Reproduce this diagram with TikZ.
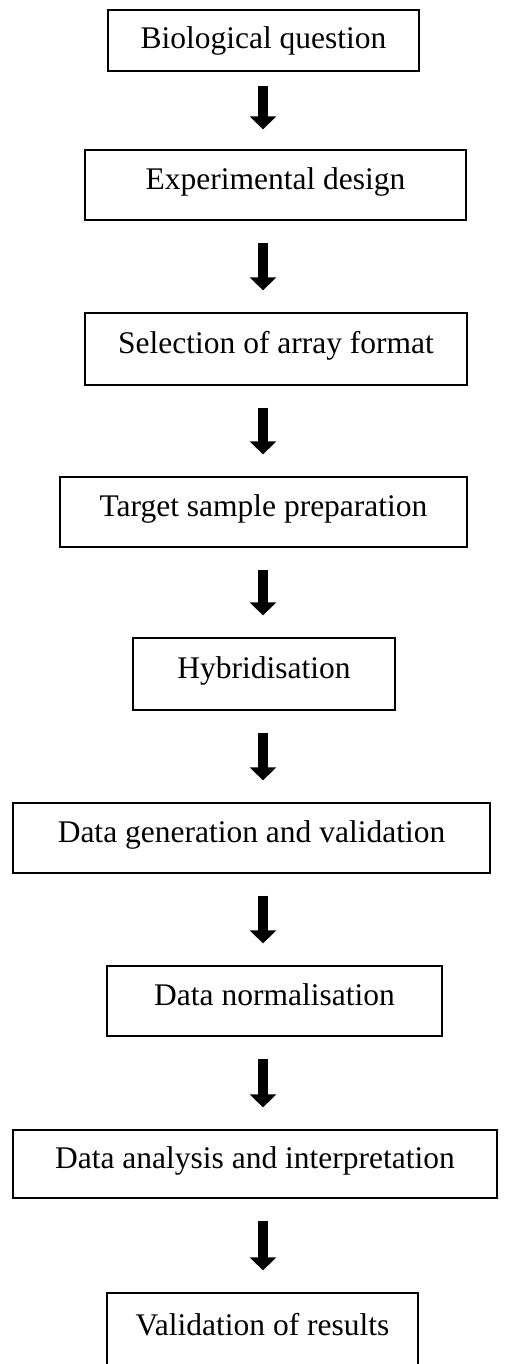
\documentclass[tikz,border=0pt]{standalone}
\usepackage{fontspec}
\setmainfont{Liberation Serif}
\usetikzlibrary{arrows.meta}

\tikzset{
  stepbox/.style={draw, line width=1.3pt, inner sep=0pt,
    font=\fontsize{31.5}{36}\selectfont, text height=21pt, text depth=12pt},
  flowarrow/.style={line width=10pt, -{Triangle[width=26pt,length=13pt]},
    shorten <=22pt, shorten >=22pt}
}

\begin{document}
\begin{tikzpicture}[x=1pt,y=-1pt]
\useasboundingbox (0,0) rectangle (506,1364);
\clip (0,0) rectangle (506,1364);
\coordinate (axis) at (263,0);

\node[stepbox, minimum width=311pt, minimum height=61pt, text depth=4pt] (question) at (263.5,40.5) {Biological question};
\node[stepbox, minimum width=381pt, minimum height=70pt] (design) at (275.5,185) {Experimental design};
\node[stepbox, minimum width=382pt, minimum height=72pt] (format) at (276,349) {Selection of array format};
\node[stepbox, minimum width=407pt, minimum height=70pt] (sample) at (263.5,512) {Target sample preparation};
\node[stepbox, minimum width=262pt, minimum height=72pt] (hybrid) at (264,674) {Hybridisation};
\node[stepbox, minimum width=477pt, minimum height=70pt] (datagen) at (251.5,838) {Data generation and validation};
\node[stepbox, minimum width=335pt, minimum height=70pt] (norm) at (274.5,1001) {Data normalisation};
\node[stepbox, minimum width=484pt, minimum height=68pt] (analysis) at (255,1164) {Data analysis and interpretation};
\node[stepbox, minimum width=311pt, minimum height=76pt] (results) at (262.5,1331) {Validation of results};

\draw[flowarrow, shorten <=14pt, shorten >=20pt] (question.south -| axis) -- (design.north -| axis);
\foreach \from/\to in {design/format, format/sample, sample/hybrid, hybrid/datagen,
    datagen/norm, norm/analysis, analysis/results}
  \draw[flowarrow] (\from.south -| axis) -- (\to.north -| axis);
\end{tikzpicture}
\end{document}
